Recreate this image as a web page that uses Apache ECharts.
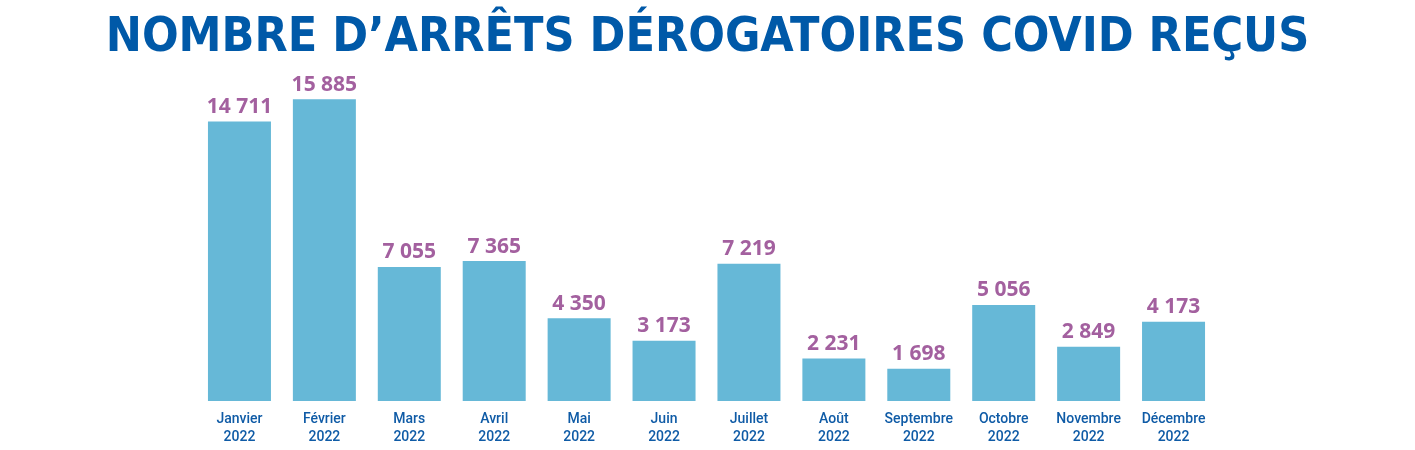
<!DOCTYPE html>
<html><head><meta charset="utf-8">
<script src="https://cdn.jsdelivr.net/npm/echarts@6/dist/echarts.min.js"></script>
<style>html,body{margin:0;padding:0;background:#fff}#c{width:1415px;height:450px}</style>
</head><body><div id="c"></div>
<script>
var titleText = "NOMBRE D\u2019ARRÊTS DÉROGATOIRES COVID REÇUS";
var months = ["Janvier","Février","Mars","Avril","Mai","Juin","Juillet","Août","Septembre","Octobre","Novembre","Décembre"];
var year = "2022";
var values = [14711,15885,7055,7365,4350,3173,7219,2231,1698,5056,2849,4173];
var categories = months.map(function(m){return m + "\n" + year;});
function fmt(v){return String(v).replace(/\B(?=(\d{3})+(?!\d))/g, " ");}
var chart = echarts.init(document.getElementById('c'), null, {renderer:'canvas'});
chart.setOption({
  animation:false,
  title:{text:titleText,left:'center',top:10,textStyle:{fontFamily:'DejaVu Sans Condensed',fontWeight:'bold',fontSize:48,color:'#0059A8'}},
  grid:{left:197,right:199,top:97,bottom:49,containLabel:false},
  xAxis:{type:'category',data:categories,axisLine:{show:false},axisTick:{show:false},
    axisLabel:{margin:9,color:'#0F5BA6',fontFamily:'Roboto',fontWeight:500,fontSize:14,lineHeight:18,interval:0}},
  yAxis:{type:'value',min:0,max:16000,show:false,splitLine:{show:false}},
  series:[{type:'bar',data:values,barWidth:63,itemStyle:{color:'#66B8D7'},
    label:{show:true,position:'top',distance:4,formatter:function(p){return fmt(p.value);},
      color:'#A3609F',fontFamily:'Noto Sans',fontWeight:'bold',fontSize:21}}]
});
</script></body></html>
